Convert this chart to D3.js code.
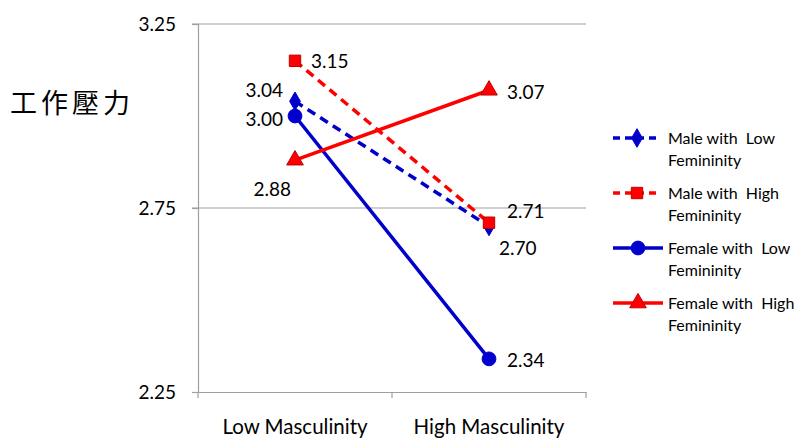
<!DOCTYPE html>
<html>
<head>
<meta charset="utf-8">
<script src="https://cdn.jsdelivr.net/npm/d3@7"></script>
<style>
  body { margin: 0; background: #fff; }
  text { font-family: Lato, "Open Sans", sans-serif; fill: #000; }
</style>
</head>
<body>
<div id="chart"></div>
<script>
// data
var categories = ["Low Masculinity", "High Masculinity"];
var seriesNames = ["Male with  Low|Femininity", "Male with  High|Femininity", "Female with  Low|Femininity", "Female with  High|Femininity"];
var maleLow = [3.04, 2.70];
var maleHigh = [3.15, 2.71];
var femaleLow = [3.00, 2.34];
var femaleHigh = [2.88, 3.07];
var yTicks = [2.25, 2.75, 3.25];

var width = 797, height = 439;
var margin = { top: 24, right: 211, bottom: 47, left: 198 };

var svg = d3.select("#chart").append("svg")
  .attr("width", width)
  .attr("height", height);

var x = d3.scalePoint().domain(categories).range([margin.left, width - margin.right]).padding(0.5);
var xBand = d3.scaleBand().domain(categories).range([margin.left, width - margin.right]);
var y = d3.scaleLinear().domain([2.25, 3.25]).range([height - margin.bottom, margin.top]);

// gridlines
svg.append("g")
  .selectAll("line")
  .data(yTicks.slice(1))
  .enter().append("line")
  .attr("x1", margin.left - 6)
  .attr("x2", width - margin.right)
  .attr("y1", function(d) { return y(d); })
  .attr("y2", function(d) { return y(d); })
  .style("stroke", "#a0a0a0")
  .style("stroke-width", 1.2);

// y axis
var yAxis = svg.append("g")
  .attr("transform", "translate(" + margin.left + ",0)")
  .call(d3.axisLeft(y).tickValues(yTicks).tickFormat(d3.format(".2f")).tickSize(6).tickPadding(16));
yAxis.select(".domain").style("stroke", "#a0a0a0").style("stroke-width", 1.2);
yAxis.selectAll(".tick line").style("stroke", "#a0a0a0").style("stroke-width", 1.2);
yAxis.selectAll("text").style("font-size", "19px").style("fill", "#000").attr("dy", "0.35em");

// x axis
var xAxis = svg.append("g")
  .attr("transform", "translate(0," + y(2.25) + ")")
  .call(d3.axisBottom(xBand).tickSize(0).tickPadding(27));
xAxis.select(".domain").style("stroke", "#a0a0a0").style("stroke-width", 1.2);
xAxis.selectAll("text").style("font-size", "20.5px").style("fill", "#000");
xAxis.selectAll(".sep")
  .data([margin.left, margin.left + xBand.bandwidth(), width - margin.right])
  .enter().append("line")
  .attr("x1", function(d) { return d; })
  .attr("x2", function(d) { return d; })
  .attr("y1", 0)
  .attr("y2", 6)
  .style("stroke", "#a0a0a0")
  .style("stroke-width", 1.2);

// y title
svg.append("text")
  .attr("x", 10)
  .attr("y", 113)
  .style("font-family", "'Noto Sans CJK TC', sans-serif")
  .style("font-size", "27px")
  .style("letter-spacing", "4px")
  .text("工作壓力");

var series = [
  { name: seriesNames[0], values: maleLow, color: "#0000cc", dash: "9,6", marker: "diamond",
    labels: [{ dx: -12, dy: -11, anchor: "end" }, { dx: 10, dy: 22, anchor: "start" }] },
  { name: seriesNames[1], values: maleHigh, color: "#ff0000", dash: "9,6", marker: "square",
    labels: [{ dx: 16, dy: 1, anchor: "start" }, { dx: 18, dy: -11, anchor: "start" }] },
  { name: seriesNames[2], values: femaleLow, color: "#0000cc", dash: null, marker: "circle",
    labels: [{ dx: -12, dy: 3, anchor: "end" }, { dx: 18, dy: 1, anchor: "start" }] },
  { name: seriesNames[3], values: femaleHigh, color: "#ff0000", dash: null, marker: "triangle",
    labels: [{ dx: -4, dy: 29, anchor: "end" }, { dx: 18, dy: 2, anchor: "start" }] }
];

var symbolTypes = {
  diamond: d3.symbolDiamond,
  square: d3.symbolSquare,
  circle: d3.symbolCircle,
  triangle: d3.symbolTriangle
};
var symbolSizes = { diamond: 100, square: 130, circle: 150, triangle: 120 };
var symbolStroke = { diamond: "#0000cc", square: "#c00000", circle: "#0000cc", triangle: "#c00000" };

var line = d3.line()
  .x(function(d, i) { return x(categories[i]); })
  .y(function(d) { return y(d); });

series.forEach(function(s) {
  var g = svg.append("g");
  g.append("path")
    .datum(s.values)
    .attr("d", line)
    .style("fill", "none")
    .style("stroke", s.color)
    .style("stroke-width", 3.5)
    .style("stroke-dasharray", s.dash);

  g.selectAll(".pt")
    .data(s.values)
    .enter().append("path")
    .attr("transform", function(d, i) { return "translate(" + x(categories[i]) + "," + y(d) + ")"; })
    .attr("d", d3.symbol().type(symbolTypes[s.marker]).size(symbolSizes[s.marker]))
    .style("fill", s.color)
    .style("stroke", symbolStroke[s.marker])
    .style("stroke-width", 1);
});

// value labels on top
series.forEach(function(s) {
  svg.append("g").selectAll("text")
    .data(s.values)
    .enter().append("text")
    .attr("x", function(d, i) { return x(categories[i]) + s.labels[i].dx; })
    .attr("y", function(d, i) { return y(d) + s.labels[i].dy; })
    .attr("dy", "0.35em")
    .attr("text-anchor", function(d, i) { return s.labels[i].anchor; })
    .style("font-size", "19px")
    .text(function(d) { return d3.format(".2f")(d); });
});

// legend
var legendTop = [138, 193, 248, 303];
var legend = svg.append("g");
series.forEach(function(s, i) {
  var ly = legendTop[i];
  var x2 = s.dash ? 658 : 663;
  legend.append("line")
    .attr("x1", 613).attr("x2", x2)
    .attr("y1", ly).attr("y2", ly)
    .style("stroke", s.color)
    .style("stroke-width", 3.5)
    .style("stroke-dasharray", s.dash ? "7,5" : null);
  legend.append("path")
    .attr("transform", "translate(" + (s.dash ? 637 : 638) + "," + ly + ")")
    .attr("d", d3.symbol().type(symbolTypes[s.marker]).size(symbolSizes[s.marker]))
    .style("fill", s.color)
    .style("stroke", symbolStroke[s.marker])
    .style("stroke-width", 1);
  var parts = s.name.split("|");
  parts.forEach(function(p, j) {
    legend.append("text")
      .attr("x", 668)
      .attr("y", ly + j * 22)
      .attr("dy", "0.35em")
      .style("font-size", "16px")
      .style("white-space", "pre")
      .attr("xml:space", "preserve")
      .text(p);
  });
});
</script>
</body>
</html>
